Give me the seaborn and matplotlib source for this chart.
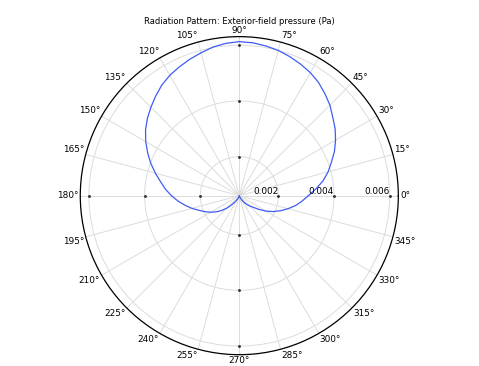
import numpy as np
import pandas as pd
import matplotlib
matplotlib.use("Agg")
import matplotlib.pyplot as plt
import seaborn as sns

# angle (deg) and exterior-field pressure (Pa)
angle_deg = list(range(0, 365, 5))
pressure = [0.00308, 0.00336, 0.00365, 0.00390, 0.00412, 0.00437, 0.00459, 0.00480, 0.00498,
            0.00520, 0.00538, 0.00556, 0.00570, 0.00581, 0.00591, 0.00600, 0.00606, 0.00611,
            0.00613, 0.00609, 0.00602, 0.00591, 0.00581, 0.00570, 0.00559, 0.00545, 0.00527,
            0.00509, 0.00491, 0.00471, 0.00448, 0.00423, 0.00398, 0.00372, 0.00347, 0.00326,
            0.00304, 0.00281, 0.00258, 0.00236, 0.00214, 0.00196, 0.00179, 0.00161, 0.00143,
            0.00123, 0.00103, 0.00089, 0.00078, 0.00071, 0.00065, 0.00063, 0.00061, 0.00060,
            0.00060, 0.00060, 0.00061, 0.00063, 0.00065, 0.00071, 0.00078, 0.00089, 0.00100,
            0.00112, 0.00125, 0.00146, 0.00171, 0.00195, 0.00218, 0.00241, 0.00265, 0.00286,
            0.00308]
r_ticks = [0.002, 0.004, 0.006]
r_labels = ["0.002", "0.004", "0.006"]
theta_ticks = list(range(0, 360, 15))
r_min, r_max = 0.0006, 0.00631

sns.set_style("white")
plt.rcParams['font.family'] = ['DejaVu Sans']

df = pd.DataFrame({"theta": np.deg2rad(angle_deg), "p": pressure})

fig = plt.figure(figsize=(4.79, 3.66), dpi=100)
ax = fig.add_axes([0.1676, 0.0309, 0.664, 0.869], projection="polar")

sns.lineplot(data=df, x="theta", y="p", sort=False, ax=ax, color="#3f5cf5", linewidth=0.9)

ax.set_ylim(r_min, r_max)
ax.set_yticks(r_ticks)
ax.set_yticklabels([])
ax.set_xticks(np.deg2rad(theta_ticks))
ax.set_xticklabels([])
ax.grid(True, color="#dcdcdc", linewidth=0.7)
ax.spines["polar"].set_color("black")
ax.spines["polar"].set_linewidth(0.9)
ax.set_xlabel("")
ax.set_ylabel("")

# angle labels sitting just outside the rim
r_lab = r_max + 0.00006
for t in theta_ticks:
    c, s = np.cos(np.deg2rad(t)), np.sin(np.deg2rad(t))
    ha = "left" if c > 0.01 else ("right" if c < -0.01 else "center")
    va = "bottom" if s > 0.01 else ("top" if s < -0.01 else "center")
    ax.text(np.deg2rad(t), r_lab, f"{t}°", ha=ha, va=va, fontsize=6.4,
            color="black", clip_on=False)

# small dots on the cardinal axes
for a in [0, 90, 180, 270]:
    ax.scatter([np.deg2rad(a)] * len(r_ticks), r_ticks, s=1.2, color="#333333", zorder=3)

for r, lab in zip(r_ticks, r_labels):
    ax.text(0, r, lab, ha="right", va="bottom", fontsize=6.4, color="black")

fig.text(0.5, 1 - 22 / 366, "Radiation Pattern: Exterior-field pressure (Pa)",
         ha="center", va="center", fontsize=6.0, color="black")

fig.savefig("out.png", dpi=100)
